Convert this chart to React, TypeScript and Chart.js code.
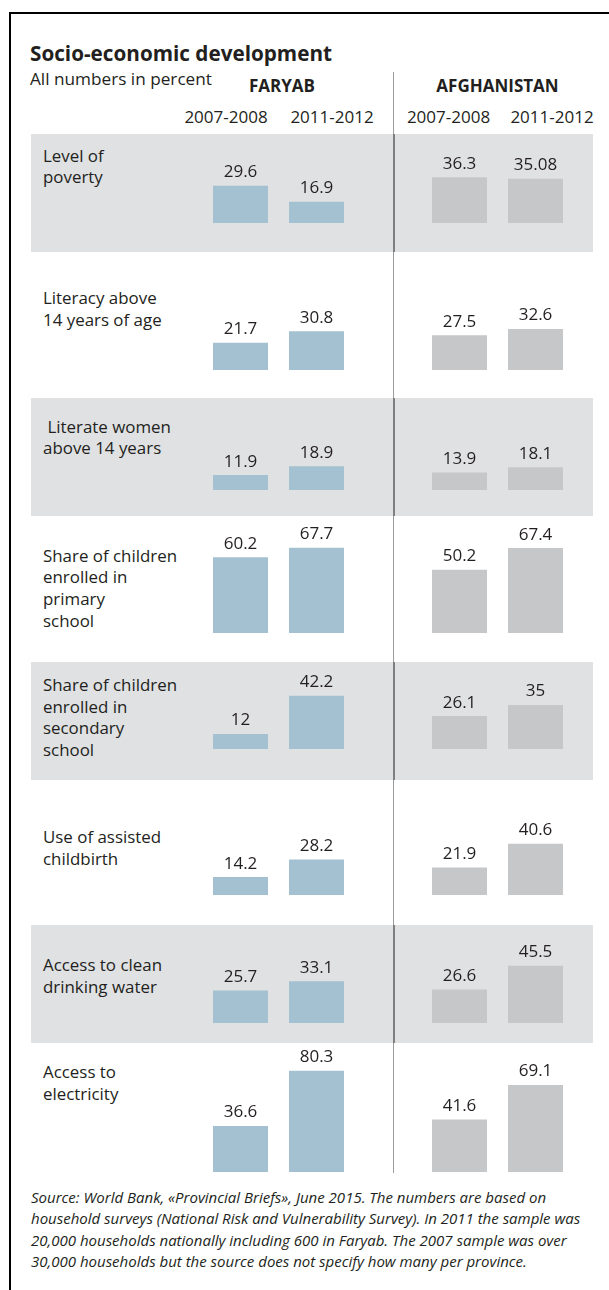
import React, { useEffect, useRef } from "react";
import { Chart, registerables } from "chart.js";

Chart.register(...registerables);

// ---------- data ----------
const TITLE = "Socio-economic development";
const SUBTITLE = "All numbers in percent";
const REGIONS = ["FARYAB", "AFGHANISTAN"];
const PERIODS = ["2007-2008", "2011-2012"];
const INDICATORS: string[][] = [
  ["Level of", "poverty"],
  ["Literacy above", "14 years of age"],
  ["\u00a0Literate women", "above 14 years"],
  ["Share of children", "enrolled in", "primary", "school"],
  ["Share of children", "enrolled in", "secondary", "school"],
  ["Use of assisted", "childbirth"],
  ["Access to clean", "drinking water"],
  ["Access to", "electricity"],
];
const FARYAB_2007 = [29.6, 21.7, 11.9, 60.2, 12, 14.2, 25.7, 36.6];
const FARYAB_2011 = [16.9, 30.8, 18.9, 67.7, 42.2, 28.2, 33.1, 80.3];
const AFGHANISTAN_2007 = [36.3, 27.5, 13.9, 50.2, 26.1, 21.9, 26.6, 41.6];
const AFGHANISTAN_2011 = [35.08, 32.6, 18.1, 67.4, 35, 40.6, 45.5, 69.1];
const SOURCE_LINES = [
  "Source: World Bank, \u00abProvincial Briefs\u00bb, June 2015. The numbers are based on",
  "household surveys (National Risk and Vulnerability Survey). In 2011 the sample was",
  "20,000 households nationally including 600 in Faryab. The 2007 sample was over",
  "30,000 households but the source does not specify how many per province.",
];

// ---------- layout & style ----------
const FONT = '"Open Sans", "Noto Sans", sans-serif';
const TEXT = "#231f20";
const BLUE = "#a3c1d1";
const GREY = "#c6c7c9";
const BAND = "#e0e1e3";
const ROW_TOPS = [134, 252, 398, 516, 662, 780, 925, 1043];
const ROW_BASELINES = [223, 370, 490, 633, 749, 895, 1023, 1172];
const LABEL_TOPS = [144.5, 287, 415.5, 544.5, 674, 826, 954, 1061];
const BAND_H = 118;
const BAND_LEFT = 31;
const BAND_RIGHT = 593;
const PX_PER_UNIT = 1.26;
const CANVAS_H = 150;
const CHART_LEFT = 169;
const CHART_W = 438;
const CAT_PCT = 152 / 219;
const BAR_PCT = 55 / 76;

const valueLabels = {
  id: "valueLabels",
  afterDatasetsDraw(chart: any) {
    const ctx = chart.ctx;
    ctx.save();
    ctx.font = `17px ${FONT}`;
    ctx.fillStyle = TEXT;
    ctx.textAlign = "center";
    ctx.textBaseline = "alphabetic";
    chart.data.datasets.forEach((ds: any, di: number) => {
      chart.getDatasetMeta(di).data.forEach((bar: any, i: number) => {
        ctx.fillText(String(ds.data[i]), bar.x, bar.y - 8.5);
      });
    });
    ctx.restore();
  },
};

function RowChart({ index }: { index: number }) {
  const ref = useRef<HTMLCanvasElement>(null);
  useEffect(() => {
    const series = [
      [FARYAB_2007[index], AFGHANISTAN_2007[index]],
      [FARYAB_2011[index], AFGHANISTAN_2011[index]],
    ];
    const chart = new Chart(ref.current as HTMLCanvasElement, {
      type: "bar",
      data: {
        labels: REGIONS,
        datasets: PERIODS.map((p, k) => ({
          label: p,
          data: series[k],
          backgroundColor: [BLUE, GREY],
          borderWidth: 0,
          categoryPercentage: CAT_PCT,
          barPercentage: BAR_PCT,
        })),
      },
      options: {
        responsive: false,
        maintainAspectRatio: false,
        animation: false,
        events: [],
        layout: { padding: 0 },
        plugins: { legend: { display: false }, tooltip: { enabled: false } },
        scales: {
          x: { display: false, offset: true, grid: { display: false } },
          y: { display: false, min: 0, max: CANVAS_H / PX_PER_UNIT },
        },
      } as any,
      plugins: [valueLabels as any],
    });
    return () => chart.destroy();
  }, [index]);
  return (
    <canvas
      ref={ref}
      width={CHART_W}
      height={CANVAS_H}
      style={{
        position: "absolute",
        left: CHART_LEFT,
        top: ROW_BASELINES[index] - CANVAS_H,
        width: CHART_W,
        height: CANVAS_H,
      }}
    />
  );
}

// text positioned by its baseline (line-height = font size)
function BText({
  text,
  x,
  baseline,
  size,
  bold,
  align,
}: {
  text: string;
  x: number;
  baseline: number;
  size: number;
  bold?: boolean;
  align?: "left" | "center";
}) {
  const top = baseline - 0.888 * size;
  const style: React.CSSProperties = {
    position: "absolute",
    top,
    fontFamily: FONT,
    fontSize: size,
    lineHeight: `${size}px`,
    fontWeight: bold ? 700 : 400,
    color: TEXT,
    whiteSpace: "nowrap",
  };
  if (align === "center") {
    style.left = x - 150;
    style.width = 300;
    style.textAlign = "center";
  } else {
    style.left = x;
  }
  return <div style={style}>{text}</div>;
}

export default function App() {
  return (
    <div
      style={{
        position: "absolute",
        left: 0,
        top: 0,
        width: 609,
        height: 1290,
        overflow: "hidden",
        background: "#ffffff",
      }}
    >
      {/* frame */}
      <div style={{ position: "absolute", left: 9, top: 12, width: 600, height: 2, background: "#000" }} />
      <div style={{ position: "absolute", left: 9, top: 12, width: 2, height: 1278, background: "#000" }} />

      {/* bands */}
      {ROW_TOPS.map((t, i) =>
        i % 2 === 0 ? (
          <div
            key={"band" + i}
            style={{
              position: "absolute",
              left: BAND_LEFT,
              top: t,
              width: BAND_RIGHT - BAND_LEFT,
              height: BAND_H,
              background: BAND,
            }}
          />
        ) : null
      )}

      {/* divider */}
      <div style={{ position: "absolute", left: 393, top: 72, width: 1, height: 1101, background: "#9b9b9b" }} />
      {ROW_TOPS.map((t, i) =>
        i % 2 === 0 ? (
          <div
            key={"div" + i}
            style={{ position: "absolute", left: 393, top: t, width: 2, height: BAND_H, background: "#808080" }}
          />
        ) : null
      )}

      {/* header */}
      <BText text={TITLE} x={30} baseline={61.7} size={20.7} bold />
      <BText text={SUBTITLE} x={30} baseline={85} size={17.2} />
      <BText text={REGIONS[0]} x={282} baseline={92} size={17} bold align="center" />
      <BText text={REGIONS[1]} x={497.5} baseline={92} size={17} bold align="center" />
      <BText text={PERIODS[0]} x={226} baseline={123} size={17} align="center" />
      <BText text={PERIODS[1]} x={332} baseline={123} size={17} align="center" />
      <BText text={PERIODS[0]} x={448.5} baseline={123} size={17} align="center" />
      <BText text={PERIODS[1]} x={552} baseline={123} size={17} align="center" />

      {/* row labels */}
      {INDICATORS.map((lines, i) => (
        <div
          key={"lab" + i}
          style={{
            position: "absolute",
            left: 43,
            top: LABEL_TOPS[i],
            fontFamily: FONT,
            fontSize: 16.9,
            lineHeight: "21.7px",
            color: TEXT,
            whiteSpace: "nowrap",
          }}
        >
          {lines.map((l, k) => (
            <div key={k}>{l}</div>
          ))}
        </div>
      ))}

      {/* charts */}
      {INDICATORS.map((_, i) => (
        <RowChart key={"chart" + i} index={i} />
      ))}

      {/* source */}
      <div
        style={{
          position: "absolute",
          left: 31,
          top: 1186.5,
          fontFamily: FONT,
          fontStyle: "italic",
          fontSize: 15,
          lineHeight: "21.5px",
          color: TEXT,
          whiteSpace: "nowrap",
        }}
      >
        {SOURCE_LINES.map((l, k) => (
          <div key={k}>{l}</div>
        ))}
      </div>
    </div>
  );
}
